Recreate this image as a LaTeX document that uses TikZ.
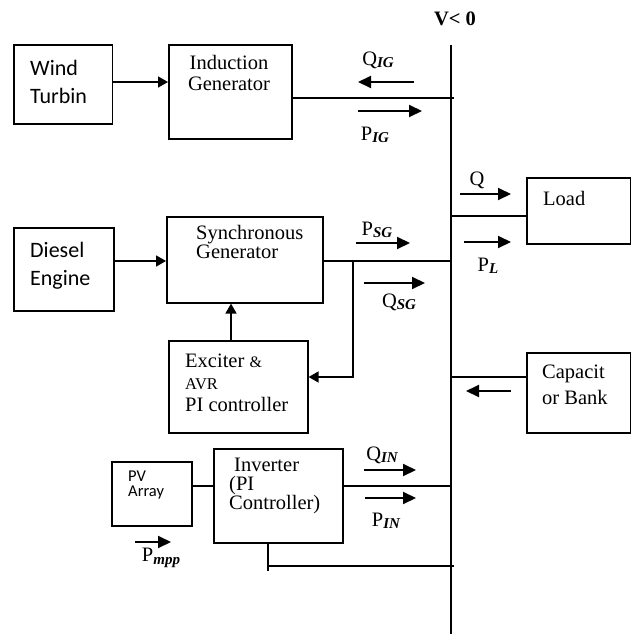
\documentclass[tikz,border=0pt]{standalone}
\usepackage{fontspec}
\setmainfont{Liberation Serif}
\newfontfamily\calib{Carlito}
\usetikzlibrary{arrows.meta}
\newcommand\fsz[2]{\fontsize{#1}{#2}\selectfont}
\newcommand\sublbl[2]{#1\raisebox{-2.5pt}{\fsz{15}{15}\bfseries\itshape #2}}
\begin{document}
\begin{tikzpicture}[x=1pt,y=-1pt,
  box/.style={draw, line width=1.6pt, anchor=north west, inner sep=0pt},
  wire/.style={line width=1.6pt},
  feed/.style={line width=1.6pt, -{Triangle[length=10pt,width=11pt]}},
  flow/.style={line width=2pt, -{Triangle[length=13pt,width=12pt]}},
  txt/.style={inner sep=0pt, anchor=north west, align=left, font=\fsz{20.5}{21}},
  sans/.style={inner sep=0pt, anchor=north west, align=left, font=\calib\fsz{22}{28}},
  lab/.style={inner sep=0pt, font=\fsz{20.5}{21}},
]
\useasboundingbox (0,0) rectangle (631,634);

% boxes
\node[box, minimum width=98.5pt, minimum height=79pt] (wind) at (13,44) {};
\node[box, minimum width=123pt, minimum height=94pt] (ig) at (168,44) {};
\node[box, minimum width=104pt, minimum height=66pt] (load) at (526,177) {};
\node[box, minimum width=100pt, minimum height=83pt] (diesel) at (13,227) {};
\node[box, minimum width=156pt, minimum height=86pt] (sg) at (166,216) {};
\node[box, minimum width=139pt, minimum height=92pt] (exc) at (168,340) {};
\node[box, minimum width=104pt, minimum height=80pt] (cap) at (526,352) {};
\node[box, minimum width=129pt, minimum height=94pt] (inv) at (213,448) {};
\node[box, minimum width=80pt, minimum height=64pt] (pv) at (111,461) {};

% texts
\node[sans] (twind) at (30,60) {Wind\\Turbin};
\node[txt, anchor=north, align=center] (tig) at (229,55) {Induction\\Generator};
\node[txt] (tload) at (543,191) {Load};
\node[sans] (tdiesel) at (30,242) {Diesel\\Engine};
\node[txt, font=\fsz{20.5}{19}] (tsg) at (196,225) {Synchronous\\Generator};
\node[txt, font=\fsz{20.5}{22}] (texc) at (185,354) {Exciter {\fsz{16}{22}\&}\\{\fsz{16.5}{22}AVR}\\PI controller};
\node[txt, font=\fsz{20.5}{26}] (tcap) at (542,365) {Capacit\\or Bank};
\node[txt, font=\fsz{20.5}{18.5}] (tinv) at (229,458) {\hspace{5pt}Inverter\\(PI\\Controller)};
\node[sans, font=\calib\fsz{16.5}{15}] (tpv) at (128,471) {PV\\Array};
\node[lab, font=\bfseries\fsz{20.5}{21}] (tv) at (455,19) {V< 0};

% bus
\coordinate (busT) at (451,45);
\coordinate (busB) at (451,634);
\draw[wire] (busT) -- (busB);

% connectors
\coordinate (wl) at (0,82);
\draw[feed] (wind.east |- wl) -- (ig.west |- wl);
\coordinate (jIG) at (454,98);
\draw[wire] (ig.east |- jIG) -- (jIG);
\coordinate (jL) at (451,216);
\draw[wire] (jL) -- (jL -| load.west);
\coordinate (dl) at (0,261);
\draw[feed] (diesel.east |- dl) -- (sg.west |- dl);
\coordinate (jSG) at (451,261);
\draw[wire] (sg.east |- jSG) -- (jSG);
\coordinate (br) at (353,261);
\coordinate (brd) at (353,377);
\draw[feed] (br) -- (brd) -- (brd -| exc.east);
\coordinate (eu) at (231,0);
\draw[feed] (exc.north -| eu) -- (sg.south -| eu);
\coordinate (jC) at (451,377);
\draw[wire] (jC) -- (jC -| cap.west);
\coordinate (pl) at (0,486);
\draw[wire] (pv.east |- pl) -- (inv.west |- pl);
\coordinate (jI) at (451,486);
\draw[wire] (inv.east |- jI) -- (jI);
\coordinate (ib) at (268,571);
\draw[wire] (inv.south -| ib) -- (ib);
\coordinate (jB1) at (268,566);
\coordinate (jB) at (454,566);
\draw[wire] (jB1) -- (jB);

% flow arrows and labels
\coordinate (qigA) at (414,82); \coordinate (qigB) at (358,82);
\draw[flow] (qigA) -- (qigB);
\node[lab] (lqig) at (378,60) {\sublbl{Q}{IG}};
\coordinate (pigA) at (358,111); \coordinate (pigB) at (422,111);
\draw[flow] (pigA) -- (pigB);
\node[lab] (lpig) at (375,135) {\sublbl{P}{IG}};
\coordinate (qA) at (460,194); \coordinate (qB) at (511,194);
\draw[flow] (qA) -- (qB);
\node[lab] (lq) at (477,180) {Q};
\coordinate (plA) at (464,242); \coordinate (plB) at (511,242);
\draw[flow] (plA) -- (plB);
\node[lab] (lpl) at (488,266) {\sublbl{P}{L}};
\coordinate (psgA) at (356,243); \coordinate (psgB) at (410,243);
\draw[flow] (psgA) -- (psgB);
\node[lab] (lpsg) at (377,230) {\sublbl{P}{SG}};
\coordinate (qsgA) at (364,283); \coordinate (qsgB) at (425,283);
\draw[flow] (qsgA) -- (qsgB);
\node[lab] (lqsg) at (399,302) {\sublbl{Q}{SG}};
\coordinate (cA) at (511,391); \coordinate (cB) at (466,391);
\draw[flow] (cA) -- (cB);
\coordinate (qinA) at (364,470); \coordinate (qinB) at (416,470);
\draw[flow] (qinA) -- (qinB);
\node[lab] (lqin) at (382,455) {\sublbl{Q}{IN}};
\coordinate (pinA) at (365,498); \coordinate (pinB) at (416,498);
\draw[flow] (pinA) -- (pinB);
\node[lab] (lpin) at (386,521) {\sublbl{P}{IN}};
\coordinate (pmA) at (135,542); \coordinate (pmB) at (171,542);
\draw[flow] (pmA) -- (pmB);
\node[lab] (lpm) at (161,558) {\sublbl{P}{mpp}};
\end{tikzpicture}
\end{document}
